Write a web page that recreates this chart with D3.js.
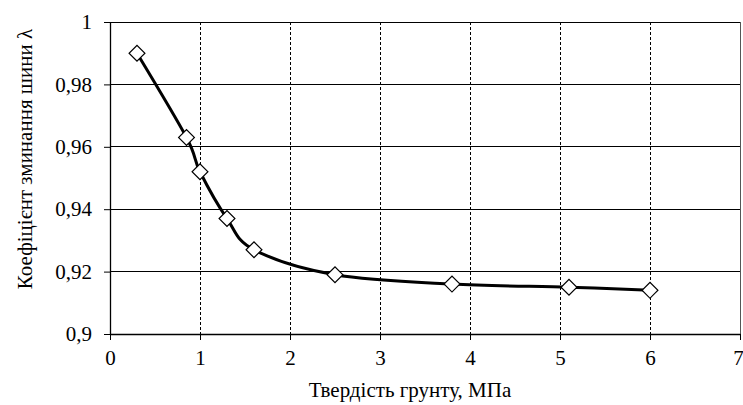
<!DOCTYPE html>
<html><head><meta charset="utf-8">
<script src="https://cdn.jsdelivr.net/npm/d3@7"></script>
<style>body{margin:0;background:#fff}svg{display:block}</style>
</head><body><svg id="c" width="743" height="405"></svg>
<script>
const xValues = [0.3, 0.85, 1.0, 1.3, 1.6, 2.5, 3.8, 5.1, 6.0];
const yValues = [0.990, 0.963, 0.952, 0.937, 0.927, 0.919, 0.916, 0.915, 0.914];
const xTicks = [0, 1, 2, 3, 4, 5, 6, 7];
const yTicks = [0.9, 0.92, 0.94, 0.96, 0.98, 1];
const xTitle = "Твердість грунту, МПа";
const yTitle = "Коефіцієнт зминання шини λ";

const FONT = "'Liberation Serif'";
const svg = d3.select("#c");
const L = 110, R = 740, T = 22, B = 334;
const x = d3.scaleLinear().domain([0, 7]).range([L, R]);
const y = d3.scaleLinear().domain([0.9, 1]).range([B, T]);
const fmt = v => String(+v.toFixed(2)).replace(".", ",");

// horizontal grid (solid)
svg.append("g").selectAll("line").data(yTicks).join("line")
  .attr("x1", L).attr("x2", R).attr("y1", d => y(d)).attr("y2", d => y(d))
  .attr("stroke", "#000").attr("stroke-width", 1).attr("shape-rendering", "crispEdges");
// vertical grid (dashed)
svg.append("g").selectAll("line").data(xTicks.filter(d => d > 0 && d < 7)).join("line")
  .attr("x1", d => x(d)).attr("x2", d => x(d)).attr("y1", T).attr("y2", B)
  .attr("stroke", "#000").attr("stroke-width", 1).attr("stroke-dasharray", "3,2").attr("shape-rendering", "crispEdges");
// right border
svg.append("line").attr("x1", R).attr("x2", R).attr("y1", T).attr("y2", B)
  .attr("stroke", "#555").attr("stroke-width", 1).attr("shape-rendering", "crispEdges");

// axes
const xAxis = svg.append("g").attr("transform", `translate(0,${B})`)
  .call(d3.axisBottom(x).tickValues(xTicks).tickFormat(d3.format("d")).tickSize(6).tickSizeOuter(0).tickPadding(10));
const yAxis = svg.append("g").attr("transform", `translate(${L},0)`)
  .call(d3.axisLeft(y).tickValues(yTicks).tickFormat(fmt).tickSize(6).tickSizeOuter(0).tickPadding(12));
[xAxis, yAxis].forEach(g => {
  g.select(".domain").attr("stroke", "#000").attr("stroke-width", 1.3);
  g.selectAll(".tick line").attr("stroke", "#000").attr("stroke-width", 1);
  g.selectAll("text").style("font-family", FONT).style("font-size", "21px").attr("fill", "#000");
});
xAxis.selectAll(".tick text").filter(d => d === 7).attr("dx", -2);

// curve
const pts = xValues.map((v, i) => [v, yValues[i]]);
svg.append("path").datum(pts)
  .attr("d", d3.line().x(d => x(d[0])).y(d => y(d[1])).curve(d3.curveCardinal.tension(0)))
  .attr("fill", "none").attr("stroke", "#000").attr("stroke-width", 3);

// markers
svg.append("g").selectAll("path").data(pts).join("path")
  .attr("d", d3.symbol().type(d3.symbolSquare).size(125))
  .attr("transform", d => `translate(${x(d[0])},${y(d[1])}) rotate(45)`)
  .attr("fill", "#fff").attr("stroke", "#000").attr("stroke-width", 1.2);

// titles
svg.append("text").attr("x", 410).attr("y", 397).attr("text-anchor", "middle")
  .style("font-family", FONT).style("font-size", "21px").text(xTitle);
svg.append("text").attr("transform", "translate(32,159) rotate(-90)").attr("text-anchor", "middle")
  .style("font-family", FONT).style("font-size", "21px").text(yTitle);
</script></body></html>
